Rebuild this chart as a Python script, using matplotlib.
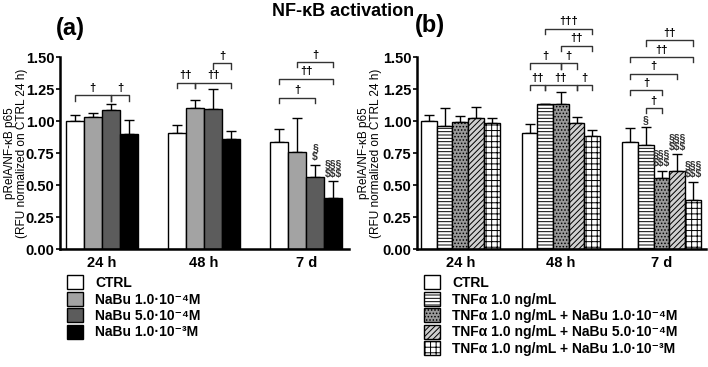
import numpy as np
import matplotlib.pyplot as plt

plt.rcParams['font.family'] = ['Liberation Sans', 'DejaVu Sans']
plt.rcParams['font.weight'] = 'bold'
plt.rcParams['hatch.linewidth'] = 0.7

groups = ['24 h', '48 h', '7 d']

# panel (a)
labels_a = ['CTRL', 'NaBu 1.0·10⁻⁴M', 'NaBu 5.0·10⁻⁴M', 'NaBu 1.0·10⁻³M']
vals_a = [[1.00, 0.91, 0.84],
          [1.035, 1.10, 0.76],
          [1.09, 1.095, 0.565],
          [0.90, 0.86, 0.40]]
tops_a = [[1.05, 0.97, 0.94],
          [1.06, 1.165, 1.02],
          [1.13, 1.25, 0.66],
          [1.01, 0.925, 0.53]]
colors_a = ['white', '#a3a3a3', '#5c5c5c', 'black']

# panel (b)
labels_b = ['CTRL', 'TNFα 1.0 ng/mL',
            'TNFα 1.0 ng/mL + NaBu 1.0·10⁻⁴M',
            'TNFα 1.0 ng/mL + NaBu 5.0·10⁻⁴M',
            'TNFα 1.0 ng/mL + NaBu 1.0·10⁻³M']
vals_b = [[1.00, 0.91, 0.84],
          [0.96, 1.13, 0.81],
          [0.995, 1.13, 0.555],
          [1.025, 0.985, 0.61],
          [0.985, 0.885, 0.38]]
tops_b = [[1.05, 0.98, 0.945],
          [1.10, 1.135, 0.95],
          [1.04, 1.23, 0.61],
          [1.11, 1.03, 0.74],
          [1.025, 0.93, 0.525]]
colors_b = ['white', 'white', '#9a9a9a', '#d0d0d0', 'white']
hatches_b = [None, '-----', '.....', '//////', '+++']

# significance brackets: (group, bar i, bar j, height, label)
brackets_a = [(0, 0, 2, 1.20, '†'), (0, 2, 3, 1.20, '†'),
              (1, 0, 1, 1.30, '††'), (1, 1, 3, 1.30, '††'), (1, 2, 3, 1.45, '†'),
              (2, 0, 2, 1.18, '†'), (2, 0, 3, 1.33, '††'), (2, 1, 3, 1.46, '†')]
brackets_b = [(1, 0, 1, 1.28, '††'), (1, 1, 3, 1.28, '††'), (1, 3, 4, 1.28, '†'),
              (1, 0, 2, 1.45, '†'), (1, 2, 3, 1.45, '†'),
              (1, 2, 4, 1.59, '††'), (1, 1, 4, 1.72, '†††'),
              (2, 1, 2, 1.10, '†'), (2, 0, 2, 1.24, '†'), (2, 0, 3, 1.37, '†'),
              (2, 0, 4, 1.50, '††'), (2, 1, 4, 1.63, '††')]
# symbols over bars: (group, bar, text)
marks_a = [(2, 2, '§\n$'), (2, 3, '§§§\n$$$')]
marks_b = [(2, 1, '§'), (2, 2, '§§§\n$$$'), (2, 3, '§§§\n$$$'), (2, 4, '§§§\n$$$')]

fig = plt.figure(figsize=(7.08, 3.67), dpi=100)
ax_a = fig.add_axes([0.0847, 0.3215, 0.4083, 0.523])
ax_b = fig.add_axes([0.589, 0.3215, 0.408, 0.523])


def draw_panel(ax, vals, tops, colors, hatches, labels, width, xlim,
               brackets, marks, leg_x, lab_x):
    n = len(vals)
    x = np.arange(len(groups))
    offs = (np.arange(n) - (n - 1) / 2) * width
    handles = []
    for k in range(n):
        err = np.array(tops[k]) - np.array(vals[k])
        b = ax.bar(x + offs[k], vals[k], width, color=colors[k],
                   edgecolor='black', linewidth=1.0,
                   hatch=hatches[k] if hatches else None, zorder=2)
        ax.errorbar(x + offs[k], vals[k], yerr=[np.zeros(3), err], fmt='none',
                    ecolor='black', elinewidth=1.0, capsize=3.5, capthick=1.0,
                    zorder=1)
        handles.append(b)
    for g, i, j, y, lab in brackets:
        x0, x1 = g + offs[i], g + offs[j]
        ax.plot([x0, x0, x1, x1], [y - 0.04, y, y, y - 0.04], color='#333333',
                lw=1.0, clip_on=False)
        ax.text((x0 + x1) / 2, y + 0.02, lab, ha='center', va='bottom',
                fontsize=8, clip_on=False)
    for g, i, txt in marks:
        ax.text(g + offs[i], tops[i][g] + 0.02, txt, ha='center', va='bottom',
                fontsize=7.5, linespacing=0.9, color='#333333')
    ax.set_xlim(*xlim)
    ax.set_ylim(0, 1.5)
    ax.set_yticks([0, 0.25, 0.5, 0.75, 1.0, 1.25, 1.5])
    ax.set_yticklabels(['0.00', '0.25', '0.50', '0.75', '1.00', '1.25', '1.50'])
    ax.set_xticks(x)
    ax.set_xticklabels(groups)
    ax.tick_params(axis='y', labelsize=10.5, length=3, width=1.2, pad=1)
    ax.tick_params(axis='x', labelsize=10.5, length=0, pad=5)
    for s in ['top', 'right']:
        ax.spines[s].set_visible(False)
    for s in ['left', 'bottom']:
        ax.spines[s].set_linewidth(1.8)
    ax.set_ylabel('pRelA/NF-κB p65\n(RFU normalized on CTRL 24 h)',
                  fontsize=8.5, linespacing=1.0)
    ax.yaxis.set_label_coords(lab_x, 0.5)
    fig.legend(handles, labels, loc='upper left',
               bbox_to_anchor=(leg_x, 0.25), frameon=False,
               fontsize=10, handlelength=1.15, handleheight=1.2,
               handletextpad=0.86, labelspacing=0.12, borderpad=0,
               borderaxespad=0)


draw_panel(ax_a, vals_a, tops_a, colors_a, None, labels_a, 0.177,
           (-0.41, 2.42), brackets_a, marks_a, 0.0946, -0.11)
draw_panel(ax_b, vals_b, tops_b, colors_b, hatches_b, labels_b, 0.156,
           (-0.43, 2.44), brackets_b, marks_b, 0.599, -0.12)

fig.text(0.485, 0.968, 'NF-κB activation', ha='center', va='center', fontsize=13)
fig.text(0.099, 0.922, '(a)', ha='center', va='center', fontsize=17)
fig.text(0.607, 0.93, '(b)', ha='center', va='center', fontsize=17)

fig.savefig('out.png', dpi=100)
